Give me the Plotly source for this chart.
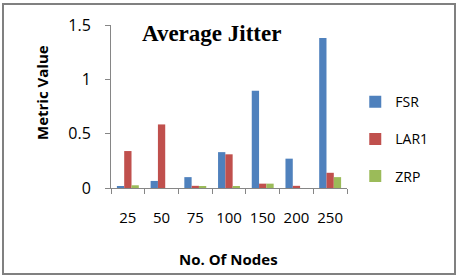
import plotly.graph_objects as go

nodes = ["25", "50", "75", "100", "150", "200", "250"]
fsr = [0.01, 0.065, 0.10, 0.33, 0.895, 0.27, 1.38]
lar1 = [0.34, 0.585, 0.02, 0.31, 0.04, 0.02, 0.14]
zrp = [0.025, 0.0, 0.015, 0.015, 0.04, 0.0, 0.10]

series = [("FSR", fsr, "#4F81BD"), ("LAR1", lar1, "#C0504D"), ("ZRP", zrp, "#9BBB59")]

fig = go.Figure()
for name, vals, col in series:
    fig.add_trace(go.Bar(x=nodes, y=vals, name=name, marker_color=col,
                         marker_line_width=0, legendgroup=name))

fig.update_layout(
    width=459, height=280,
    margin=dict(l=111, r=112, t=25, b=92),
    paper_bgcolor="white", plot_bgcolor="white",
    barmode="group", bargap=0.35, bargroupgap=0,
    showlegend=True,
    legend=dict(x=1.035, y=0.30, xanchor="left", yanchor="middle",
                font=dict(family="Open Sans", size=14, color="#000000"),
                tracegroupgap=16, itemwidth=30, bgcolor="rgba(0,0,0,0)"),
    xaxis=dict(type="category", showline=True, linecolor="#868686", linewidth=1,
               ticks="outside", tickson="boundaries", ticklen=5, tickcolor="#868686",
               tickangle=0, ticklabelstandoff=16,
               tickfont=dict(family="Open Sans", size=15, color="#000000"),
               showgrid=False, zeroline=False),
    yaxis=dict(range=[0, 1.5], tickvals=[0, 0.5, 1, 1.5], ticktext=["0", "0.5", "1", "1.5"],
               showline=True, linecolor="#868686", linewidth=1,
               ticks="outside", ticklen=5, tickcolor="#868686", ticklabelstandoff=11,
               tickfont=dict(family="Open Sans", size=16, color="#000000"),
               showgrid=False, zeroline=False),
    shapes=[dict(type="rect", xref="paper", yref="paper",
                 x0=-108/236, x1=1 + 108/236, y0=-86/163, y1=1 + 21/163,
                 line=dict(color="#808080", width=2))],
    annotations=[
        dict(text="<b>Average Jitter</b>", xref="paper", yref="paper",
             x=100/236, y=(188 - 33)/163, xanchor="center", yanchor="middle",
             showarrow=False, font=dict(family="Liberation Serif", size=23, color="#000000")),
        dict(text="<b>Metric Value</b>", xref="paper", yref="paper",
             x=(42 - 111)/236, y=(188 - 93)/163, xanchor="center", yanchor="middle",
             textangle=-90, showarrow=False,
             font=dict(family="Open Sans", size=15, color="#000000")),
        dict(text="<b>No. Of Nodes</b>", xref="paper", yref="paper",
             x=(228 - 111)/236, y=(188 - 259)/163, xanchor="center", yanchor="middle",
             showarrow=False, font=dict(family="Open Sans", size=15, color="#000000")),
    ],
)

fig.write_html("out.html")
